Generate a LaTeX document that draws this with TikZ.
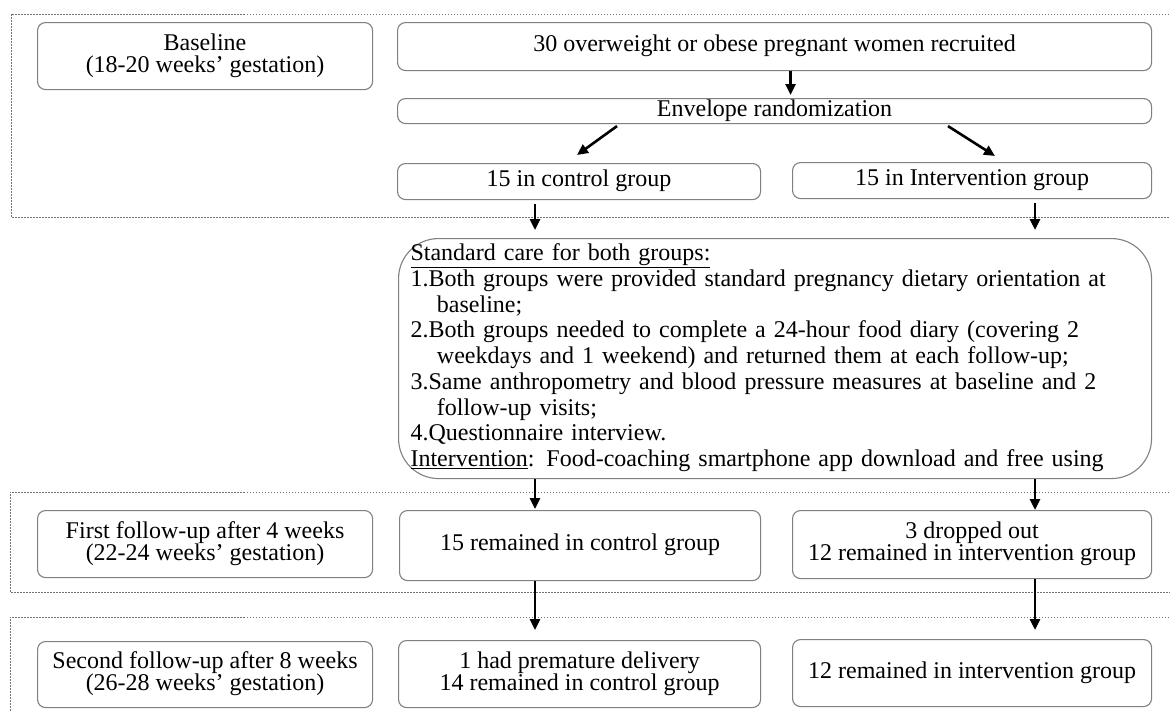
\documentclass[tikz,border=0pt]{standalone}
\usepackage{fontspec}
\setmainfont{Liberation Serif}
\usetikzlibrary{arrows.meta,positioning,calc}

\begin{document}
\begin{tikzpicture}[x=1pt, y=-1pt,
    box/.style={rectangle, draw=black!50, line width=1.1pt, rounded corners=8pt, align=center, anchor=north west, inner sep=0pt, font=\fontsize{24}{22}\selectfont, execute at begin node=\strut, execute at end node=\strut},
    care/.style={box, rounded corners=40pt, minimum width=753pt, minimum height=240pt, align=left, text width=729pt, inner xsep=12pt, font=\fontsize{24}{25.75}\selectfont},
    arrow/.style={-{Triangle[length=11pt,width=10pt]}, line width=2.6pt},
    phase/.style={draw=black!55, line width=0.9pt, dash pattern=on 1.5pt off 1.5pt}
]
\useasboundingbox (0,0) rectangle (1170,710);

% Phase frames
\draw[phase] (1172,14) -| (11,217) -- (1172,217);
\draw[phase] (1172,492) -| (10,592) -- (1172,592);
\draw[phase] (1172,617) -| (10,715);

% Baseline
\node[box, minimum width=335pt, minimum height=67pt] (base) at (37,22) {Baseline\\(18-20 weeks’ gestation)};
\node[box, minimum width=754pt, minimum height=48pt] (recruit) at (397,22) {30 overweight or obese pregnant women recruited};
\node[box, minimum width=754pt, minimum height=25pt] (rand) at (397,98) {Envelope randomization};
\node[box, minimum width=363pt, minimum height=36pt] (ctrl) at (397,163) {15 in control group};
\node[box, minimum width=359pt, minimum height=36pt] (intv) at (792,162) {15 in Intervention group};

% Care for both groups
\node[care] (care) at (398,238) {\underline{Standard care for both groups:}\\
1.Both groups were provided standard pregnancy dietary orientation at\\
\hspace*{1.1em}baseline;\\
2.Both groups needed to complete a 24-hour food diary (covering 2\\
\hspace*{1.1em}weekdays and 1 weekend) and returned them at each follow-up;\\
3.Same anthropometry and blood pressure measures at baseline and 2\\
\hspace*{1.1em}follow-up visits;\\
4.Questionnaire interview.\\
\underline{Intervention}: Food-coaching smartphone app download and free using};

% First follow-up
\node[box, minimum width=335pt, minimum height=67pt] (fu1) at (37,510) {First follow-up after 4 weeks\\(22-24 weeks’ gestation)};
\node[box, minimum width=361pt, minimum height=70pt] (ctrl1) at (399,510) {15 remained in control group};
\node[box, minimum width=359pt, minimum height=68pt] (intv1) at (792,510) {3 dropped out\\12 remained in intervention group};

% Second follow-up
\node[box, minimum width=335pt, minimum height=66pt] (fu2) at (37,641) {Second follow-up after 8 weeks\\(26-28 weeks’ gestation)};
\node[box, minimum width=362pt, minimum height=67pt] (ctrl2) at (398,640) {1 had premature delivery\\14 remained in control group};
\node[box, minimum width=359pt, minimum height=67pt] (intv2) at (792,639) {12 remained in intervention group};

% Arrows
\coordinate (colC) at (535,0);
\coordinate (colI) at (1035,0);
\draw[arrow, shorten >=3pt] ([xshift=16pt]recruit.south) -- ([xshift=16pt]rand.north);
\draw[arrow] ($(rand.south west)+(220,2)$) -- ($(ctrl.north west)+(180,-8)$);
\draw[arrow] ($(rand.south west)+(551,2)$) -- ($(intv.north west)+(203,-6)$);
\draw[arrow, shorten <=4pt, shorten >=8pt] (ctrl.south -| colC) -- (care.north -| colC);
\draw[arrow, shorten <=4pt, shorten >=8pt] (intv.south -| colI) -- (care.north -| colI);
\draw[arrow, shorten >=1pt] (care.south -| colC) -- (ctrl1.north -| colC);
\draw[arrow] (care.south -| colI) -- (intv1.north -| colI);
\draw[arrow, shorten >=10pt] (ctrl1.south -| colC) -- (ctrl2.north -| colC);
\draw[arrow, shorten >=9pt] (intv1.south -| colI) -- (intv2.north -| colI);

\end{tikzpicture}
\end{document}
